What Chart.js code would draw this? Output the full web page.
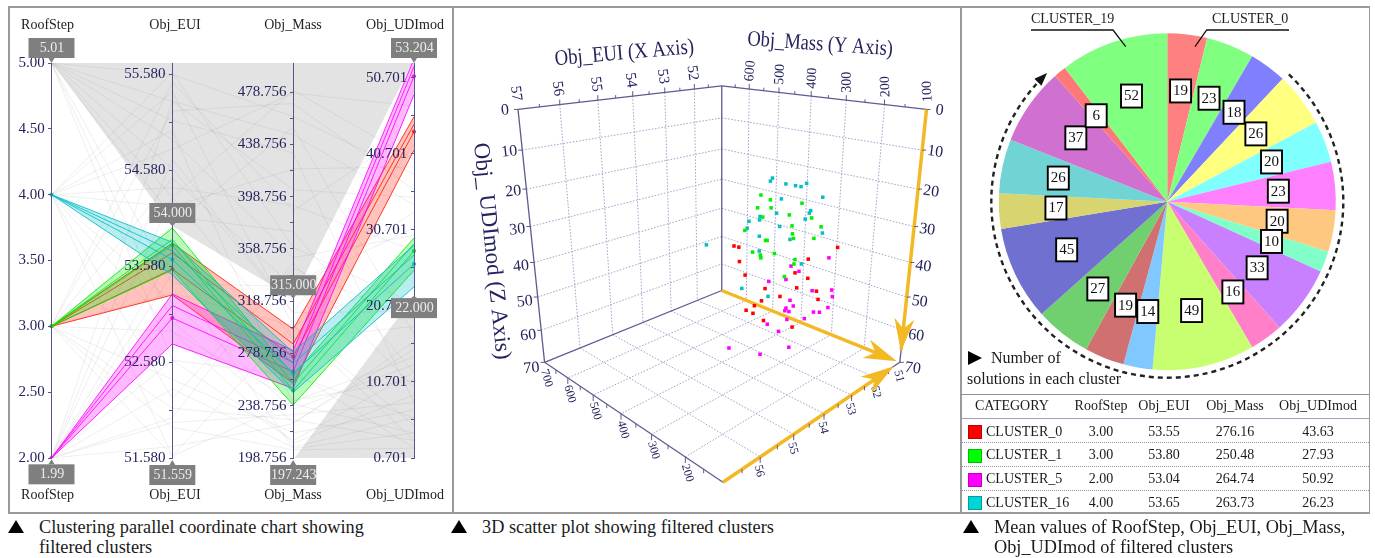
<!DOCTYPE html>
<html><head><meta charset="utf-8">
<script src="https://cdn.jsdelivr.net/npm/chart.js@4"></script>
<style>
html,body{margin:0;padding:0;background:#fff}
body{width:1375px;height:558px;position:relative;overflow:hidden;font-family:"Liberation Serif",serif;color:#1a1a1a}
canvas{position:absolute;display:block}
.t{position:absolute;white-space:pre;line-height:20px;font-size:14px}
.c{transform:translateX(-50%)}
.tri{position:absolute;width:0;height:0;border-left:8px solid transparent;border-right:8px solid transparent;border-bottom:13px solid #000}
.line{position:absolute}
.cap{font-size:18.3px}
</style></head><body>
<canvas id="pc" width="443" height="504" style="left:9px;top:8px"></canvas>
<canvas id="sc" width="506" height="504" style="left:453px;top:8px"></canvas>
<canvas id="pie" width="407" height="385" style="left:961px;top:8px"></canvas>
<div id="ui"></div>
<script>
/* ---------- parallel coordinates data ---------- */
const axisNames=['RoofStep','Obj_EUI','Obj_Mass','Obj_UDImod'];
const axisMin=[2,51.58,198.756,0.701];
const axisMax=[5,55.70,501,52.67];
const majorRoof=[2,2.5,3,3.5,4,4.5,5];
const majorEui=[51.58,52.58,53.58,54.58,55.58];
const minorEui=[52.08,53.08,54.08,55.08];
const majorMass=[198.756,238.756,278.756,318.756,358.756,398.756,438.756,478.756];
const minorMass=[218.756,258.756,298.756,338.756,378.756,418.756,458.756];
const majorUdi=[0.701,10.701,20.701,30.701,40.701,50.701];
const minorUdi=[5.701,15.701,25.701,35.701,45.701];
const filterMax=[5.01,54.0,321,53.204];
const filterMin=[1.99,51.559,197.243,22.0];
const filterMaxText=['5.01','54.000','315.000','53.204'];
const filterMinText=['1.99','51.559','197.243','22.000'];
const c0Max=[3,53.82,297.4,45.6], c0Min=[3,53.28,256,41.2], c0Mean=[3,53.55,276.16,43.63], c0Member=[3,53.72,286,44.6];
const c1Max=[3,53.98,262,29.65], c1Min=[3,53.54,239.3,25.4], c1Mean=[3,53.80,250.48,27.93], c1Member=[3,53.86,256,28.9];
const c5Max=[2,53.29,281,53.204], c5Min=[2,52.77,252,48.5], c5Mean=[2,53.04,264.74,50.92], c5Member=[2,53.17,272,52.2];
const c16Max=[4,53.83,279.8,28.7], c16Min=[4,53.49,249,23.2], c16Mean=[4,53.65,263.73,26.23], c16Member=[4,53.74,271,27.4];
const contextRows=[
[5,55.58,460,38],[5,55.3,404,35],[5,54.9,352,30],[5,54.6,310,42],[5,54.3,290,18],[5,55.1,432,8],[5,54.1,372,12],[5,53.4,330,33],[5,52.6,262,6],[5,53.0,226,15],
[4,55.4,300,25],[4,54.8,478,47],[4,54.2,420,39],[4,55.0,240,4],[4,52.2,344,19],[4,52.9,210,9],[4,51.6,300,3],[4,54.4,392,28],[4,53.2,236,13],[4,55.6,360,21],
[3,55.2,470,36],[3,54.5,330,31],[3,52.4,218,7],[3,51.9,205,2],[3,52.9,243,11],[3,55.5,388,44],[3,54.0,452,17],[3,53.3,300,5],[3,51.6,242,14],[3,52.1,228,3],
[2,52.3,207,6],[2,51.7,225,16],[2,54.7,310,20],[2,52.0,348,10],[2,55.3,446,34],[2,53.7,265,2],[2,54.3,480,40],[2,51.95,232,8],[2,52.6,212,12],[2,53.5,206,4]];
/* ---------- 3D scatter data (EUI, Mass, UDImod per solution) ---------- */
const c16Eui=[53.50,53.75,53.60,53.80,53.65,53.55,53.70,53.50,53.75,53.60,53.80,53.65,53.55,53.70,53.50,53.75,53.60,53.80,53.65,53.55,53.70,53.50,53.75,53.60,53.80];
const c16Mass=[301,285,256,215,213,207,155,275,266,190,178,199,329,317,366,348,269,144,321,244,316,215,362,296,472];
const c16Udi=[16.1,16.0,16.4,15.5,16.0,15.3,17.1,20.8,23.6,21.4,21.2,23.6,26.6,26.8,29.0,29.7,27.5,25.1,31.4,30.3,35.1,36.0,47.0,47.4,37.8];
const c1Eui=[53.65,53.90,53.75,53.95,53.80,53.70,53.85,53.65,53.90,53.75,53.95,53.80,53.70,53.85,53.65,53.90,53.75,53.95,53.80,53.70,53.85,53.65,53.90];
const c1Mass=[319,271,201,301,277,308,224,183,341,224,137,218,223,160,303,277,331,252,304,311,205,223,227];
const c1Udi=[20.5,20.0,19.5,22.6,22.4,25.8,22.7,22.9,29.7,25.7,23.0,27.4,29.0,26.7,32.0,30.5,35.7,33.0,35.5,36.8,33.4,35.8,38.4];
const c0Eui=[53.40,53.65,53.50,53.70,53.55,53.45,53.60,53.40,53.65,53.50,53.70,53.55,53.45,53.60,53.40,53.65,53.50,53.70,53.55];
const c0Mass=[421,382,127,375,194,380,223,204,213,314,158,266,171,315,354,357,349,299,229];
const c0Udi=[37.8,36.2,29.0,39.9,33.9,44.8,38.3,39.8,41.8,46.2,40.5,46.5,44.1,49.4,53.1,53.6,54.8,54.1,53.7];
const c5Eui=[52.89,53.14,52.99,53.19,53.04,52.94,53.09,52.89,53.14,52.99,53.19,53.04,52.94,53.09,52.89,53.14,52.99,53.19,53.04,52.94,53.09,52.89,53.14];
const c5Mass=[189,271,260,280,343,225,163,290,157,272,163,289,300,276,222,188,239,273,344,317,466,288,356];
const c5Udi=[35.5,39.6,41.2,43.5,46.8,45.6,42.6,51.0,44.0,51.6,47.0,52.7,54.3,53.0,51.8,49.5,54.0,54.8,59.8,61.3,72.6,65.2,69.4];
const xTicks3D=[52,53,54,55,56];
const yTicks3D=[200,300,400,500,600];
const zTicks3D=[10,20,30,40,50,60];
/* ---------- pie + table data ---------- */
const pieCounts=[19,23,18,26,20,23,20,10,33,16,49,14,19,27,45,17,26,37,6,52];
const pieColors=['#ff8080','#80ff80','#8080ff','#ffff80','#80ffff','#ff80ff','#ffc880','#80ffc8','#c880ff','#ff80c8','#c8ff70','#80c8ff','#d07070','#70d070','#7070d0','#d8d470','#70d4d4','#d070d0','#ff7878','#80ff80'];
const tableHead=['CATEGORY','RoofStep','Obj_EUI','Obj_Mass','Obj_UDImod'];
const tableCats=['CLUSTER_0','CLUSTER_1','CLUSTER_5','CLUSTER_16'];
const tableRoof=['3.00','3.00','2.00','4.00'];
const tableEui=['53.55','53.80','53.04','53.65'];
const tableMass=['276.16','250.48','264.74','263.73'];
const tableUdi=['43.63','27.93','50.92','26.23'];
const tableColors=['#ff0000','#00ff00','#ff00ff','#00d4d4'];

const SERIF='"Liberation Serif",serif', INK='#24245e';
Chart.defaults.animation=false;
Chart.defaults.font.family=SERIF;

/* ---------- parallel coordinates chart ---------- */
const norm=(row)=>row.map((v,i)=>(v-axisMin[i])/(axisMax[i]-axisMin[i]));
const ln=(row,color,w,extra)=>Object.assign({data:norm(row),yAxisID:'yN',borderColor:color,borderWidth:w,pointRadius:0,tension:0,fill:false},extra||{});
function band(maxR,minR,meanR,member,rgb){
  const line=`rgba(${rgb},.85)`;
  return [
    ln(meanR,line,1,{pointRadius:2,pointBackgroundColor:`rgb(${rgb})`,pointBorderWidth:0}),
    ln(member,line,1),
    ln(maxR,line,1,{fill:'+1',backgroundColor:`rgba(${rgb},.27)`}),
    ln(minR,line,1)
  ];
}
const pcDatasets=[
  ...band(c16Max,c16Min,c16Mean,c16Member,'0,190,200'),
  ...band(c1Max,c1Min,c1Mean,c1Member,'0,235,0'),
  ...band(c5Max,c5Min,c5Mean,c5Member,'255,0,255'),
  ...band(c0Max,c0Min,c0Mean,c0Member,'255,30,10'),
  ...contextRows.map(r=>ln(r,'rgba(130,130,130,.13)',1)),
  ln(filterMax,'rgba(0,0,0,0)',0,{fill:'end',backgroundColor:'#e3e3e3'}),
  ln(filterMin,'rgba(0,0,0,0)',0,{fill:'start',backgroundColor:'#e3e3e3'})
];
function yAxis(i,major,minor,fmt){
  return {axis:'y',type:'linear',position:{x:i},min:axisMin[i],max:axisMax[i],
    border:{color:'#55558c',width:1,z:1},
    grid:{drawOnChartArea:false,drawTicks:true,tickLength:3,color:'#55558c',z:1},
    ticks:{autoSkip:false,color:INK,font:{size:15,family:SERIF},padding:0,z:1,
      callback:v=>major.includes(v)?v.toFixed(fmt)+'\u00A0\u2009':''},
    afterBuildTicks:s=>{s.ticks=[...major,...minor].sort((a,b)=>a-b).map(v=>({value:v}));}
  };
}
const gapUp=[5,3,3,5], gapDown=[5,5,5,2];
const pcOverlay={id:'pcOverlay',afterDraw(ch){
  const c=ch.ctx,X=ch.scales.x,Y=ch.scales.yN;
  c.save();c.font='14px '+SERIF;c.textAlign='center';c.textBaseline='middle';
  const box=(i,val,text,up)=>{
    const n=Math.max(-0.01,Math.min(1,(val-axisMin[i])/(axisMax[i]-axisMin[i])));
    const x=X.getPixelForValue(i),y=Y.getPixelForValue(n);
    const h=20,w=46,gap=up?gapUp[i]:gapDown[i],by=up?y-gap-h:y+gap;
    c.fillStyle='#7f7f7f';
    c.beginPath();c.moveTo(x,y);c.lineTo(x-3,up?y-gap:y+gap);c.lineTo(x+3,up?y-gap:y+gap);c.closePath();c.fill();
    c.fillRect(x-23,by,w,h);
    c.fillStyle='#ececec';c.fillText(text,x+0.5,by+h/2+0.5);
  };
  axisNames.forEach((n,i)=>{box(i,filterMax[i],filterMaxText[i],true);box(i,filterMin[i],filterMinText[i],false);});
  c.fillStyle='#222';
  const nameX=[38.5,166,284,396];
  axisNames.forEach((n,i)=>{c.fillText(n,nameX[i],17);c.fillText(n,nameX[i],487.5);});
  c.restore();
}};
new Chart(document.getElementById('pc'),{type:'line',
  data:{labels:axisNames,datasets:pcDatasets},
  options:{responsive:false,maintainAspectRatio:false,
    layout:{padding:{left:42.5,right:38,top:55,bottom:54}},
    plugins:{legend:{display:false},tooltip:{enabled:false}},
    scales:{x:{type:'category',display:false,offset:false},
      yN:{axis:'y',type:'linear',min:0,max:1,display:false},
      yR:yAxis(0,majorRoof,[],2),yE:yAxis(1,majorEui,minorEui,3),yM:yAxis(2,majorMass,minorMass,3),yU:yAxis(3,majorUdi,minorUdi,3)}
  },plugins:[pcOverlay]});

/* ---------- 3D scatter chart ---------- */
const al=-.2237,ga=.1164,Ua=-160.7,Ub=161.5,Vs=18.63,Vc=232.2;
function project(X,Y,Z){
  const a=(X-51)/6,b=(700-Y)/600,k=Z/70,w=1+al*(a+b)+ga*k;
  return {x:722+(Ua*a+Ub*b)/w,y:83+(Vs*(a+b)+Vc*k)/w};
}
const seg=(p,q,color,width,dash)=>({type:'scatter',data:[project(...p),project(...q)],showLine:true,borderColor:color,borderWidth:width,borderDash:dash||[],pointRadius:0,tension:0,order:5});
const GRID='#a4a4cc',DOT=[1.6,1.6],EDGE='#5c5c90',GOLD='#f2b924';
const grid3D=[];
xTicks3D.forEach(v=>{grid3D.push(seg([v,700,0],[v,700,70],GRID,1,DOT),seg([v,700,70],[v,100,70],GRID,1,DOT));});
yTicks3D.forEach(v=>{grid3D.push(seg([51,v,0],[51,v,70],GRID,1,DOT),seg([51,v,70],[57,v,70],GRID,1,DOT));});
zTicks3D.forEach(v=>{grid3D.push(seg([57,700,v],[51,700,v],GRID,1,DOT),seg([51,700,v],[51,100,v],GRID,1,DOT));});
const edges3D=[[[51,700,0],[51,700,70]],[[57,700,0],[51,700,0]],[[51,700,0],[51,100,0]],[[57,700,0],[57,700,70]],[[57,700,70],[51,700,70]],[[57,700,70],[57,100,70]],[[57,100,70],[51,100,70]],[[51,100,0],[51,100,70]]].map(e=>seg(e[0],e[1],EDGE,1.3));
const gold3D=[seg([51,100,0],[51,100,66],GOLD,3.5),seg([51,700,70],[51,125,70],GOLD,3.5),seg([57,100,70],[51.45,100,70],GOLD,3.5)];
const pts=(eui,mass,udi,color)=>({type:'scatter',data:eui.map((e,i)=>project(e,mass[i],udi[i])),backgroundColor:color,pointStyle:'rect',pointRadius:2.5,pointBorderWidth:0,showLine:false,order:1,clip:false});
const sc3DOverlay={id:'sc3DOverlay',afterDatasetsDraw(ch){
  const c=ch.ctx,SX=ch.scales.x,SY=ch.scales.y;
  const P=(X,Y,Z)=>{const q=project(X,Y,Z);return [SX.getPixelForValue(q.x),SY.getPixelForValue(q.y)];};
  const txt=(s,x,y,deg,size,sx)=>{c.save();c.translate(x,y);c.rotate(deg*Math.PI/180);if(sx)c.scale(sx,1);c.font=size+'px '+SERIF;c.fillStyle=INK;c.textAlign='center';c.textBaseline='middle';c.fillText(s,0,0);c.restore();};
  const tick=(p,dx,dy)=>{c.beginPath();c.moveTo(p[0],p[1]);c.lineTo(p[0]+dx,p[1]+dy);c.stroke();};
  c.save();c.strokeStyle=EDGE;c.lineWidth=1;
  for(let v=51.5;v<57;v+=.5){tick(P(v,700,0),0,(v%1===0)?-5:-3);tick(P(v,100,70),0,(v%1===0)?6:4);}
  for(let v=150;v<700;v+=50){tick(P(51,v,0),0,(v%100===0)?-5:-3);tick(P(57,v,70),0,(v%100===0)?6:4);}
  [...zTicks3D,0,70].forEach(v=>{tick(P(57,700,v),-4,0);tick(P(51,100,v),4,0);});
  c.restore();
  [52,53,54,55,56,57].forEach(v=>{const p=P(v,700,0);txt(String(v),p[0]-2,p[1]-16,82,15);});
  [100,200,300,400,500,600].forEach(v=>{const p=P(51,v,0);txt(String(v),p[0]+1,p[1]-18,-85-(600-v)/60,14);});
  [...zTicks3D,0,70].forEach(v=>{let p=P(57,700,v);txt(String(v),p[0]-13,p[1]+1+v/14,-6,16);p=P(51,100,v);txt(String(v),p[0]+13,p[1]+1+v/14,8,16);});
  [200,300,400,500,600,700].forEach(v=>{const p=P(57,v,70);txt(String(v),p[0]+2,p[1]+16,74,12);});
  [51,52,53,54,55,56].forEach(v=>{const p=P(v,100,70);txt(String(v),p[0]-1,p[1]+14,76,12);});
  txt('Obj_EUI (X Axis)',SX.getPixelForValue(623),SY.getPixelForValue(50),-5,22,.853);
  txt('Obj_Mass (Y Axis)',SX.getPixelForValue(822),SY.getPixelForValue(41),4,22,.84);
  txt('Obj_ UDImod (Z Axis)',SX.getPixelForValue(488),SY.getPixelForValue(251),84,23);
  const arrow=(tip,from)=>{
    const dx=tip[0]-from[0],dy=tip[1]-from[1],L=Math.hypot(dx,dy),ux=dx/L,uy=dy/L,nx=-uy,ny=ux;
    const pt=(along,side)=>[tip[0]-ux*along+nx*side,tip[1]-uy*along+ny*side];
    const a=pt(33,10),b=pt(33,-10),m=pt(23,0);
    c.save();c.fillStyle=GOLD;c.beginPath();c.moveTo(tip[0],tip[1]);c.lineTo(a[0],a[1]);c.lineTo(m[0],m[1]);c.lineTo(b[0],b[1]);c.closePath();c.fill();c.restore();
  };
  arrow(P(51,100,66.6),P(51,100,0));
  arrow(P(51,108,70),P(51,700,70));
  arrow(P(51.28,100,70),P(57,100,70));
}};
new Chart(document.getElementById('sc'),{type:'scatter',
  data:{datasets:[pts(c0Eui,c0Mass,c0Udi,'#ff0000'),pts(c1Eui,c1Mass,c1Udi,'#00f000'),pts(c5Eui,c5Mass,c5Udi,'#ff00ff'),pts(c16Eui,c16Mass,c16Udi,'#0cbcc4'),...gold3D,...edges3D,...grid3D]},
  options:{responsive:false,maintainAspectRatio:false,layout:{padding:0},
    plugins:{legend:{display:false},tooltip:{enabled:false}},
    scales:{x:{type:'linear',min:453,max:959,display:false},y:{type:'linear',min:8,max:512,reverse:true,display:false}}},
  plugins:[sc3DOverlay]});

/* ---------- pie chart ---------- */
const pieOverlay={id:'pieOverlay',afterDatasetsDraw(ch){
  const c=ch.ctx,m=ch.getDatasetMeta(0).data;
  const cx=m[0].x,cy=m[0].y,R=m[0].outerRadius;
  c.save();
  c.font='15px '+SERIF;c.textAlign='center';c.textBaseline='middle';
  m.forEach((arc,i)=>{
    const a=(arc.startAngle+arc.endAngle)/2,r=R*0.662,x=cx+Math.cos(a)*r,y=cy+Math.sin(a)*r;
    c.fillStyle='#fff';c.fillRect(x-10.5,y-11.5,21,23);
    c.strokeStyle='#000';c.lineWidth=1.9;c.strokeRect(x-10.5,y-11.5,21,23);
    c.fillStyle='#111';c.fillText(String(pieCounts[i]),x,y+0.5);
  });
  const D=Math.PI/180,RR=R+7.5;
  c.strokeStyle='#222';c.lineWidth=2.4;c.setLineDash([5,4]);
  c.beginPath();c.arc(cx,cy,RR,-46.3*D,222*D);c.stroke();c.setLineDash([]);
  const end=225*D,tx=cx+Math.cos(end)*RR,ty=cy+Math.sin(end)*RR,dirx=-Math.sin(end),diry=Math.cos(end);
  c.fillStyle='#111';c.beginPath();c.moveTo(tx+dirx*6,ty+diry*6);
  c.lineTo(tx-dirx*7-diry*5,ty-diry*7+dirx*5);c.lineTo(tx-dirx*7+diry*5,ty-diry*7-dirx*5);c.closePath();c.fill();
  c.strokeStyle='#111';c.lineWidth=1.3;
  c.beginPath();c.moveTo(70,22);c.lineTo(152,22);c.lineTo(164.7,38.7);c.stroke();
  c.beginPath();c.moveTo(328,22);c.lineTo(245.7,22);c.lineTo(234,38.7);c.stroke();
  c.font='14px '+SERIF;c.fillStyle='#222';c.textAlign='left';
  c.fillText('CLUSTER_19',70,11);c.fillText('CLUSTER_0',251,11);
  c.restore();
}};
new Chart(document.getElementById('pie'),{type:'pie',
  data:{labels:pieCounts.map((v,i)=>'C'+i),datasets:[{data:pieCounts,backgroundColor:pieColors,borderWidth:0}]},
  options:{responsive:false,maintainAspectRatio:false,
    layout:{padding:{left:37.8,right:32.2,top:25.2,bottom:22.8}},
    plugins:{legend:{display:false},tooltip:{enabled:false}}},
  plugins:[pieOverlay]});

/* ---------- frames, table, captions ---------- */
const ui=document.getElementById('ui');
const add=(html)=>ui.insertAdjacentHTML('beforeend',html);
const rule=(l,t,w,h,col)=>add(`<div class="line" style="left:${l}px;top:${t}px;width:${w}px;height:${h}px;background:${col}"></div>`);
const FRAME='#9a9a9a';
rule(8,6,1361,2,FRAME);rule(8,512,1361,2,FRAME);rule(8,6,1.5,508,FRAME);rule(452,6,1.5,508,FRAME);rule(960.3,6,1.5,508,FRAME);rule(1368.5,6,1.5,508,FRAME);
rule(961,393.5,408,1.5,'#8e8ea8');rule(961,417.5,408,1.5,'#a0a0bc');
[442,466,490].forEach(y=>add(`<div class="line" style="left:961px;top:${y}px;width:408px;border-top:1px dotted #9090a0"></div>`));
const colX=[1101,1164,1235,1318];
add(`<div class="t" style="left:975px;top:396px">${tableHead[0]}</div>`);
colX.forEach((x,i)=>add(`<div class="t c" style="left:${x}px;top:396px">${tableHead[i+1]}</div>`));
tableCats.forEach((n,i)=>{
  const y=421.7+i*23.7;
  add(`<div class="line" style="left:968px;top:${y+3.5}px;width:12px;height:12px;background:${tableColors[i]};border:.5px solid rgba(0,0,0,.25)"></div>`);
  add(`<div class="t" style="left:986px;top:${y}px">${n}</div>`);
  [tableRoof,tableEui,tableMass,tableUdi].forEach((col,j)=>add(`<div class="t c" style="left:${colX[j]}px;top:${y}px">${col[i]}</div>`));
});
const tri=(l,t)=>add(`<div class="tri" style="left:${l}px;top:${t}px"></div>`);
tri(8,520);tri(451,520);tri(963,520);
add(`<div class="t cap" style="left:39px;top:517px">Clustering parallel coordinate chart showing</div>`);
add(`<div class="t cap" style="left:39px;top:537px">filtered clusters</div>`);
add(`<div class="t cap" style="left:482px;top:517px">3D scatter plot showing filtered clusters</div>`);
add(`<div class="t cap" style="left:994px;top:517px">Mean values of RoofStep, Obj_EUI, Obj_Mass,</div>`);
add(`<div class="t cap" style="left:994px;top:537px">Obj_UDImod of filtered clusters</div>`);
add(`<div class="line" style="left:968px;top:351px;width:0;height:0;border-top:7px solid transparent;border-bottom:7px solid transparent;border-left:14px solid #000"></div>`);
add(`<div class="t" style="left:991px;top:348px;font-size:16px">Number of</div>`);
add(`<div class="t" style="left:967px;top:369px;font-size:16px">solutions in each cluster</div>`);
</script></body></html>
